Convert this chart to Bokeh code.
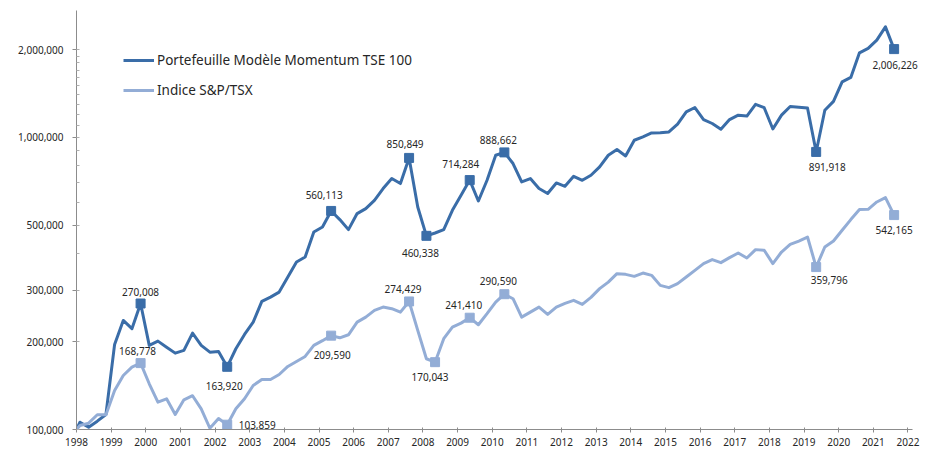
from bokeh.plotting import figure
from bokeh.models import (FixedTicker, Range1d, Legend, LegendItem, ColumnDataSource,
                          NumeralTickFormatter, LabelSet)
from bokeh.embed import file_html
from bokeh.resources import INLINE
from bokeh.core.properties import value

# ---- data (quarterly observations, decimal years) ----
dates = [1998.0] + [1998.1 + 0.25 * i for i in range(95)]

momentum = [100000, 105900, 101800, 106800, 112600, 195600, 236300, 221400, 270008, 194100,
            200700, 191400, 182600, 186500, 213800, 194100, 184000, 185100, 163920, 189000,
            211600, 233200, 274600, 284000, 295400, 332600, 374400, 389500, 474600, 493500,
            560113, 523300, 483500, 548600, 570600, 609200, 668200, 723200, 695000, 850849,
            577800, 460338, 470800, 483500, 562900, 633900, 714284, 605900, 713400, 869000,
            888662, 814000, 704000, 723200, 668200, 642400, 698400, 680300, 736200, 713400,
            742100, 792500, 869000, 908800, 864200, 978100, 1004000, 1036000, 1037000, 1044000,
            1110000, 1223000, 1266000, 1151000, 1116000, 1067000, 1151000, 1192000, 1183000, 1298000,
            1264000, 1069000, 1192000, 1276000, 1269000, 1261000, 891918, 1239000, 1329000, 1550000,
            1605000, 1948000, 2017000, 2153000, 2391000, 2006226]

tsx = [100000, 103200, 105100, 112300, 112300, 136000, 153100, 163500, 168778, 143400,
       124000, 127400, 112600, 126400, 130500, 117700, 101000, 109000, 103859, 117700,
       127400, 141500, 148400, 148400, 154300, 164400, 171000, 177900, 194100, 201400,
       209590, 206000, 211000, 233200, 242600, 255700, 262500, 259200, 252300, 274429,
       218400, 174700, 170043, 204600, 224200, 231300, 241410, 228400, 249200, 273100,
       290590, 280400, 242600, 252300, 262500, 247800, 262500, 270300, 276800, 268200,
       283400, 303500, 319700, 341700, 339800, 334500, 343300, 337100, 311500, 305900,
       315700, 332600, 350700, 369800, 381600, 372700, 387600, 402000, 386400, 412900,
       410700, 369800, 405200, 430500, 441800, 456000, 359796, 421500, 441800, 480800,
       523300, 566100, 567500, 601200, 622300, 542165]

series_names = ["Portefeuille Modèle Momentum TSE 100", "Indice S&P/TSX"]

# labelled points (indices into the series) and label offsets (px, +dy = downwards)
mom_idx = [8, 18, 30, 39, 41, 46, 50, 86, 95]
mom_dx = [0, -3, -7, -4, -6, -9, -6, 11, 1]
mom_dy = [-12, 19, -16, -14, 17, -16, -12, 15, 16]

tsx_idx = [8, 18, 30, 39, 42, 46, 50, 86, 95]
tsx_dx = [-3, 30, 1, -6, -5, -6, -6, 13, 0]
tsx_dy = [-12, 0, 19, -12, 15, -13, -13, 13, 15]

year_ticks = list(range(1998, 2023))
x_axis_end = 2022.13
y_ticks = [100000, 200000, 300000, 500000, 1000000, 2000000]
y_minor = list(range(100000, 2000001, 100000))

DARK = "#3A6DA8"
LIGHT = "#93ADD6"
TXT = "#262626"
FONT = "Noto Sans"

p = figure(width=931, height=453, y_axis_type="log",
           x_range=Range1d(1998, 2022.506), y_range=Range1d(100000, 2720000),
           output_backend="svg", toolbar_location=None,
           min_border_left=76, min_border_right=6, min_border_top=10, min_border_bottom=24)

p.grid.visible = False
p.outline_line_color = None
p.background_fill_color = "white"

r1 = p.line(dates, momentum, line_color=DARK, line_width=3, line_join="round")
r2 = p.line(dates, tsx, line_color=LIGHT, line_width=3, line_join="round")

for idx, dx, dy, vals, col in [(mom_idx, mom_dx, mom_dy, momentum, DARK),
                               (tsx_idx, tsx_dx, tsx_dy, tsx, LIGHT)]:
    src = ColumnDataSource(dict(
        x=[dates[i] for i in idx],
        y=[vals[i] for i in idx],
        text=[f"{vals[i]:,}" for i in idx],
        dx=dx, dy=[-d for d in dy]))
    p.scatter(x="x", y="y", source=src, marker="square", size=9,
              fill_color=col, line_color=col)
    p.add_layout(LabelSet(x="x", y="y", text="text", x_offset="dx", y_offset="dy", source=src,
                          text_font=value(FONT), text_font_size=value("10px"),
                          text_color=TXT, text_align="center", text_baseline="middle"))

# axes
xa = p.xaxis[0]
xa.bounds = (1998, x_axis_end)
xa.ticker = FixedTicker(ticks=year_ticks)
xa.formatter = NumeralTickFormatter(format="0")
xa.axis_line_color = "#8c8c8c"
xa.major_tick_line_color = "#8c8c8c"
xa.major_tick_in = 2
xa.major_tick_out = 3
xa.minor_tick_line_color = None
xa.major_label_standoff = 5
xa.major_label_text_font = FONT
xa.major_label_text_font_size = "10px"
xa.major_label_text_color = TXT

ya = p.yaxis[0]
ya.ticker = FixedTicker(ticks=y_ticks, minor_ticks=y_minor)
ya.formatter = NumeralTickFormatter(format="0,0")
ya.axis_line_color = "#8c8c8c"
ya.major_tick_line_color = "#8c8c8c"
ya.major_tick_in = 0
ya.major_tick_out = 4
ya.minor_tick_line_color = "#b0b0b0"
ya.minor_tick_in = 3
ya.minor_tick_out = 0
ya.major_label_standoff = 9
ya.major_label_text_font = FONT
ya.major_label_text_font_size = "10px"
ya.major_label_text_color = TXT

legend = Legend(items=[LegendItem(label=series_names[0], renderers=[r1]),
                       LegendItem(label=series_names[1], renderers=[r2])],
                location=(47, 329), orientation="vertical",
                glyph_width=31, glyph_height=20, label_height=20, label_standoff=3,
                spacing=10, padding=0, margin=0,
                border_line_color=None, background_fill_alpha=0,
                label_text_font=FONT, label_text_font_size="13.5px",
                label_text_color=TXT)
p.add_layout(legend)

open("out.html", "w").write(file_html(p, INLINE))
